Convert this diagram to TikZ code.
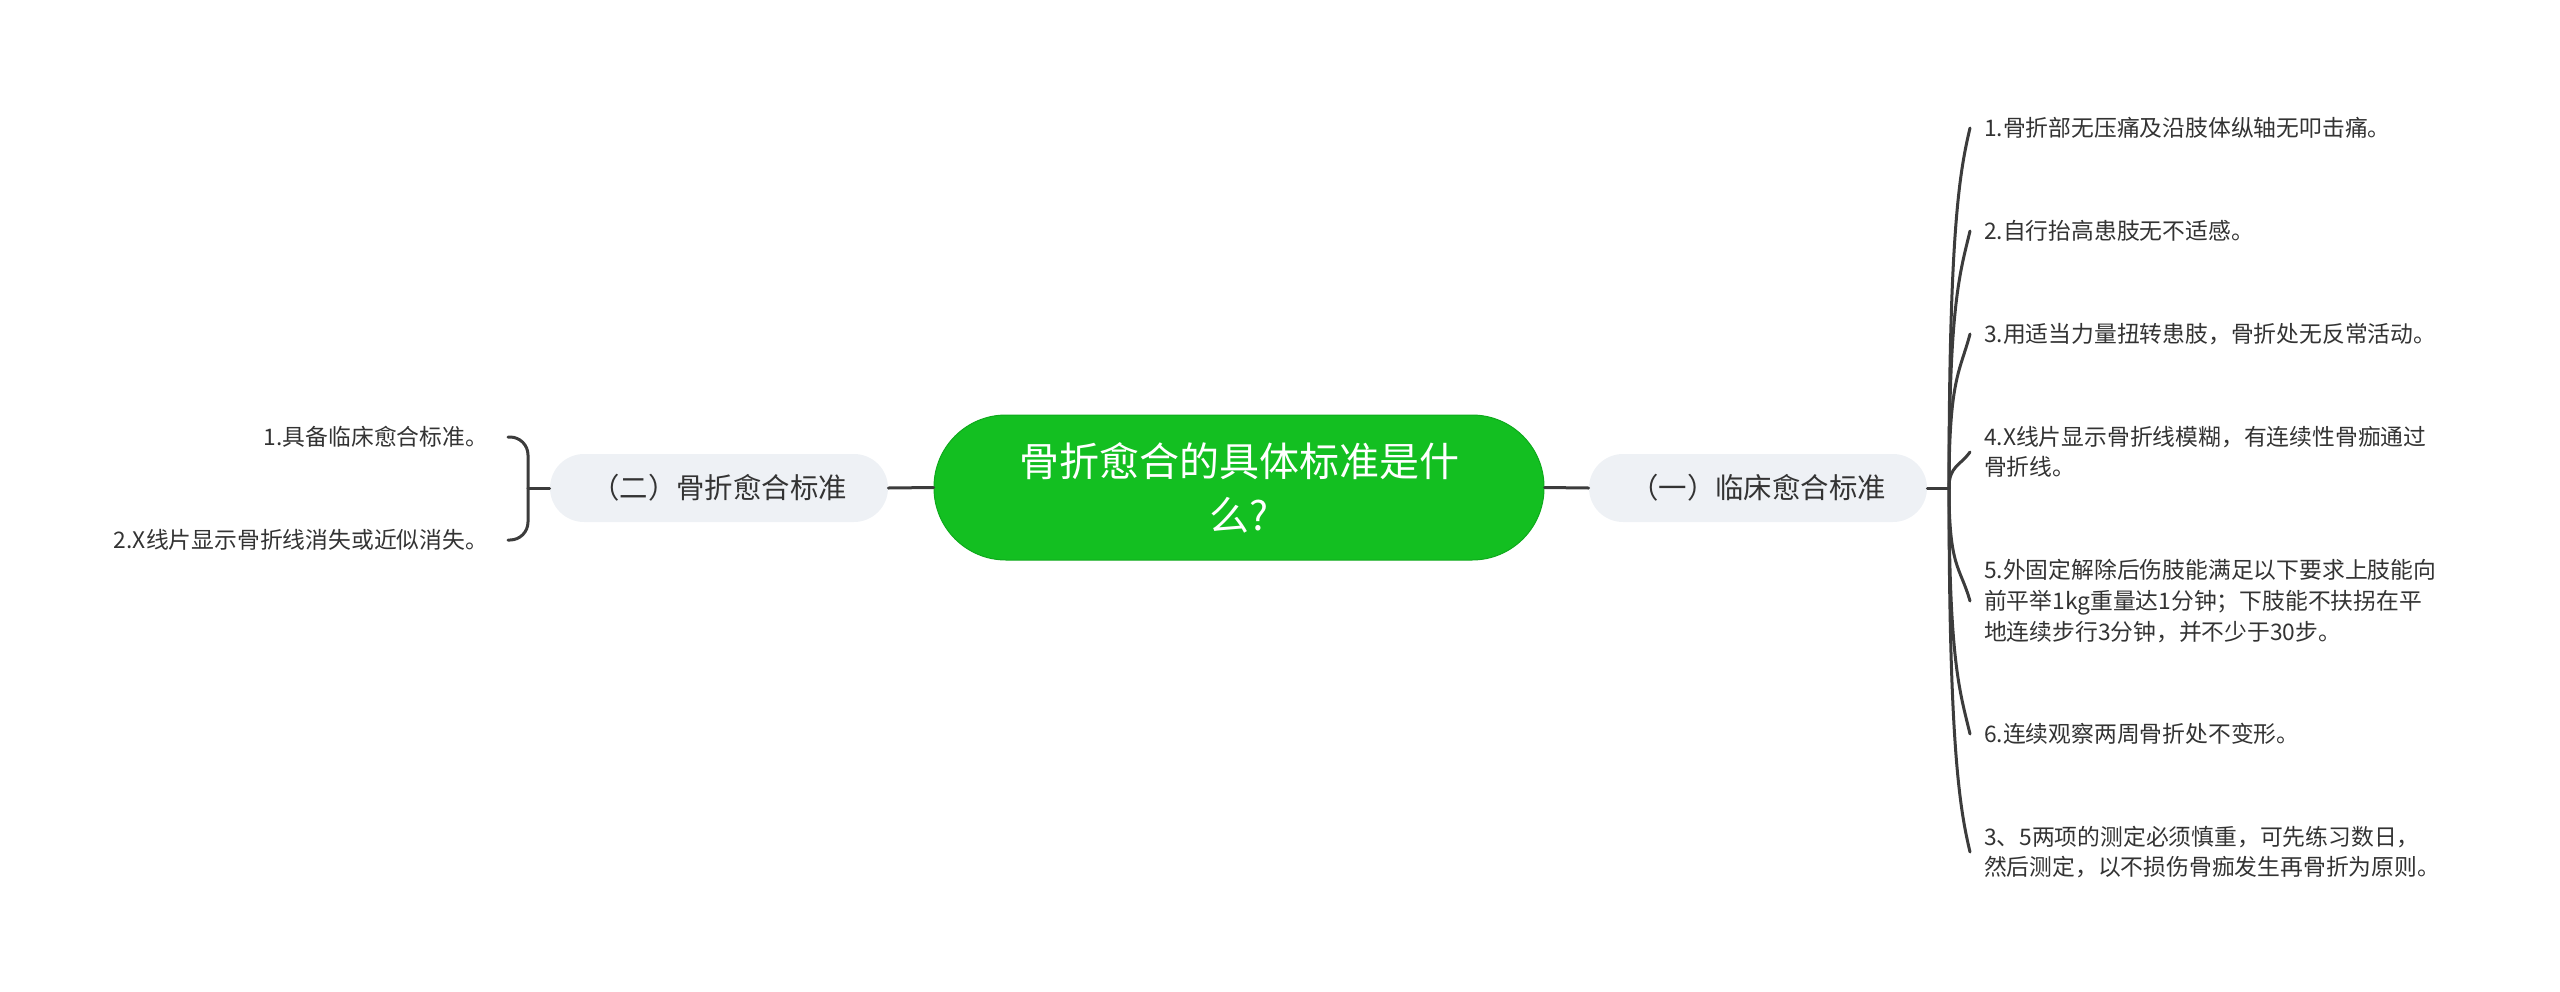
\documentclass[tikz,border=0pt]{standalone}
\usepackage{fontspec}
\setmainfont{Noto Sans CJK SC}
\definecolor{cgreen}{RGB}{19,191,33}
\definecolor{cgreenb}{RGB}{14,170,28}
\definecolor{subfill}{RGB}{238,241,245}
\definecolor{txt}{RGB}{51,51,51}
\definecolor{ln}{RGB}{60,60,60}
\begin{document}
\begin{tikzpicture}[x=0.5pt,y=-0.5pt,
 rootbox/.style={fill=cgreen, draw=cgreenb, line width=0.5pt, rounded corners=36pt, minimum width=305pt, minimum height=72.5pt, align=center, text=white, font=\fontsize{20pt}{27pt}\selectfont, inner sep=0pt},
 subbox/.style={fill=subfill, rounded corners=17pt, minimum width=169pt, minimum height=34pt, text=txt, font=\fontsize{14.2pt}{17pt}\selectfont, inner sep=0pt},
 rleaf/.style={anchor=west, text=txt, font=\fontsize{11.4pt}{15.3pt}\selectfont, align=left, inner ysep=0pt, inner xsep=7pt, outer sep=0pt},
 lleaf/.style={anchor=east, text=txt, font=\fontsize{11.4pt}{15.3pt}\selectfont, align=right, inner ysep=0pt, inner xsep=10pt, outer sep=0pt},
 conn/.style={draw=ln, line width=1.5pt, line cap=round}
]
\useasboundingbox (0,0) rectangle (2560,991);
\node[rootbox] (root) at (1239,487.5) {骨折愈合的具体标准是什\\么?};
\node[subbox] (n2) at (719,488) {（二）骨折愈合标准};
\node[subbox] (n1) at (1758,488) {（一）临床愈合标准};
\node[lleaf] (l1) at (508,437) {1.具备临床愈合标准。};
\node[lleaf] (l2) at (508,540) {2.X线片显示骨折线消失或近似消失。};
\node[rleaf] (i1) at (1970,128) {1.骨折部无压痛及沿肢体纵轴无叩击痛。};
\node[rleaf] (i2) at (1970,231) {2.自行抬高患肢无不适感。};
\node[rleaf] (i3) at (1970,334) {3.用适当力量扭转患肢，骨折处无反常活动。};
\node[rleaf] (i4) at (1970,452) {4.X线片显示骨折线模糊，有连续性骨痂通过\\骨折线。};
\node[rleaf] (i5) at (1970,601) {5.外固定解除后伤肢能满足以下要求上肢能向\\前平举1kg重量达1分钟；下肢能不扶拐在平\\地连续步行3分钟，并不少于30步。};
\node[rleaf] (i6) at (1970,734) {6.连续观察两周骨折处不变形。};
\node[rleaf] (i7) at (1970,852) {3、5两项的测定必须慎重，可先练习数日，\\然后测定，以不损伤骨痂发生再骨折为原则。};
\coordinate (jl) at (528,488);
\coordinate (jr) at (1949,488);
\draw[conn] (root.west) -- (n2.east);
\draw[conn] (root.east) -- (n1.west);
\draw[conn] (n2.west) -- (jl);
\draw[conn, rounded corners=9pt] (jl) |- (l1.east);
\draw[conn, rounded corners=9pt] (jl) |- (l2.east);
\draw[conn] (n1.east) -- (jr);
\draw[conn] (jr) .. controls +(0,-260) and +(-10,42) .. (i1.west);
\draw[conn] (jr) .. controls +(0,-185) and +(-10,42) .. (i2.west);
\draw[conn] (jr) .. controls +(0,-110) and +(-10,38) .. (i3.west);
\draw[conn] (jr) .. controls +(0,-22) and +(-10,14) .. (i4.west);
\draw[conn] (jr) .. controls +(0,80) and +(-10,-35) .. (i5.west);
\draw[conn] (jr) .. controls +(0,175) and +(-10,-42) .. (i6.west);
\draw[conn] (jr) .. controls +(0,260) and +(-10,-42) .. (i7.west);
\end{tikzpicture}
\end{document}
